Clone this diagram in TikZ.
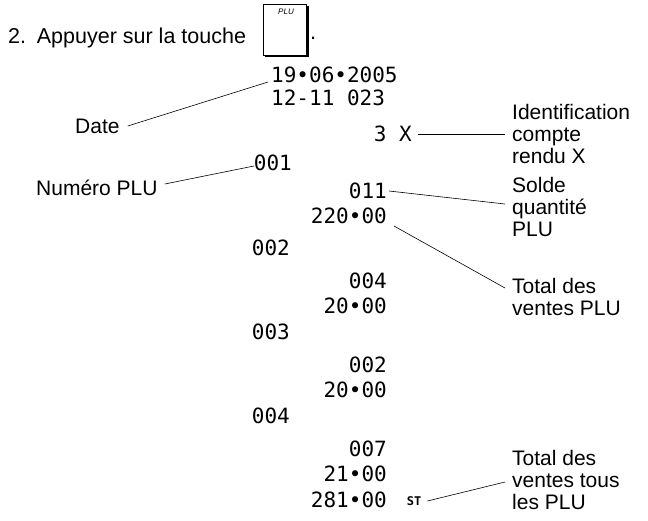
\documentclass[tikz,border=0pt]{standalone}
\usepackage{fontspec}
\setmainfont{Liberation Sans}
\newfontfamily\tape{DejaVu Sans Mono}
\usetikzlibrary{positioning}

\begin{document}
\begin{tikzpicture}[
    x=1pt, y=-1pt,
    label/.style={inner sep=0pt, align=left, font=\fontsize{21}{22}\selectfont},
    tape/.style={inner sep=0pt, anchor=east, font=\tape\fontsize{21}{21}\selectfont},
    lead/.style={line width=0.6pt}
]
    \useasboundingbox (0,0) rectangle (648,520);
    % Heading with key
    \node[anchor=west, inner sep=0pt, font=\fontsize{21.5}{26}\selectfont] (step) at (8,38) {2.\hspace{0.5em}Appuyer sur la touche};
    \fill (265,6) rectangle (309,57);
    \node[draw, fill=white, line width=0.6pt, minimum width=43pt, minimum height=51pt, inner sep=0pt] (key) at (284.5,29.5) {};
    \node[inner sep=0pt, font=\fontsize{8}{8}\selectfont\itshape] at (286,12) {PLU};
    \node[inner sep=0pt, anchor=west, font=\fontsize{22}{26}\selectfont] at (310,38) {.};

    % Receipt
    \node[tape, anchor=west] (date) at (271,75) {19•06•2005};
    \node[tape, anchor=west] (time) at (271,98) {12-11 023};
    \node[tape] (rep) at (412,134) {3\hspace{0.6em}X};
    \node[tape] (p1) at (292,163) {001};
    \node[tape] (q1) at (387,191) {011};
    \node[tape] (t1) at (387,216) {220•00};
    \node[tape] (p2) at (290,248) {002};
    \node[tape] (q2) at (387,281) {004};
    \node[tape] (t2) at (387,306) {20•00};
    \node[tape] (p3) at (290,332) {003};
    \node[tape] (q3) at (387,365) {002};
    \node[tape] (t3) at (387,390) {20•00};
    \node[tape] (p4) at (290,416) {004};
    \node[tape] (q4) at (387,449) {007};
    \node[tape] (t4) at (387,474) {21•00};
    \node[tape] (sum) at (387,500) {281•00};
    \node[inner sep=0pt, font=\tape\fontsize{12}{12}\selectfont\bfseries] (st) at (414,501) {ST};

    % Labels
    \node[label, anchor=west] (ldate) at (75,126) {Date};
    \node[label, anchor=west] (lplu) at (36,188) {Numéro PLU};
    \node[label, anchor=west] (lrep) at (512,134) {Identification\\compte\\rendu X};
    \node[label, anchor=west] (lqty) at (512,207) {Solde\\quantité\\PLU};
    \node[label, anchor=west] (lsale) at (512,297) {Total des\\ventes PLU};
    \node[label, anchor=west] (lsum) at (512,480) {Total des\\ventes tous\\les PLU};

    % Leaders
    \coordinate (c1) at (268,82);
    \coordinate (c2) at (254,166);
    \coordinate (c3) at (394,226);
    \draw[lead] (ldate.east) ++(8,0) -- (c1);
    \draw[lead] (lplu.east) ++(7,-4) -- (c2);
    \draw[lead] ([xshift=6pt]rep.east) -- ([xshift=-7pt]lrep.west);
    \draw[lead] (q1.east) ++(2,0) -- (505,204);
    \draw[lead] (c3) -- (505,288);
    \draw[lead] (st.east) ++(6,0) -- (505,482);
\end{tikzpicture}
\end{document}
